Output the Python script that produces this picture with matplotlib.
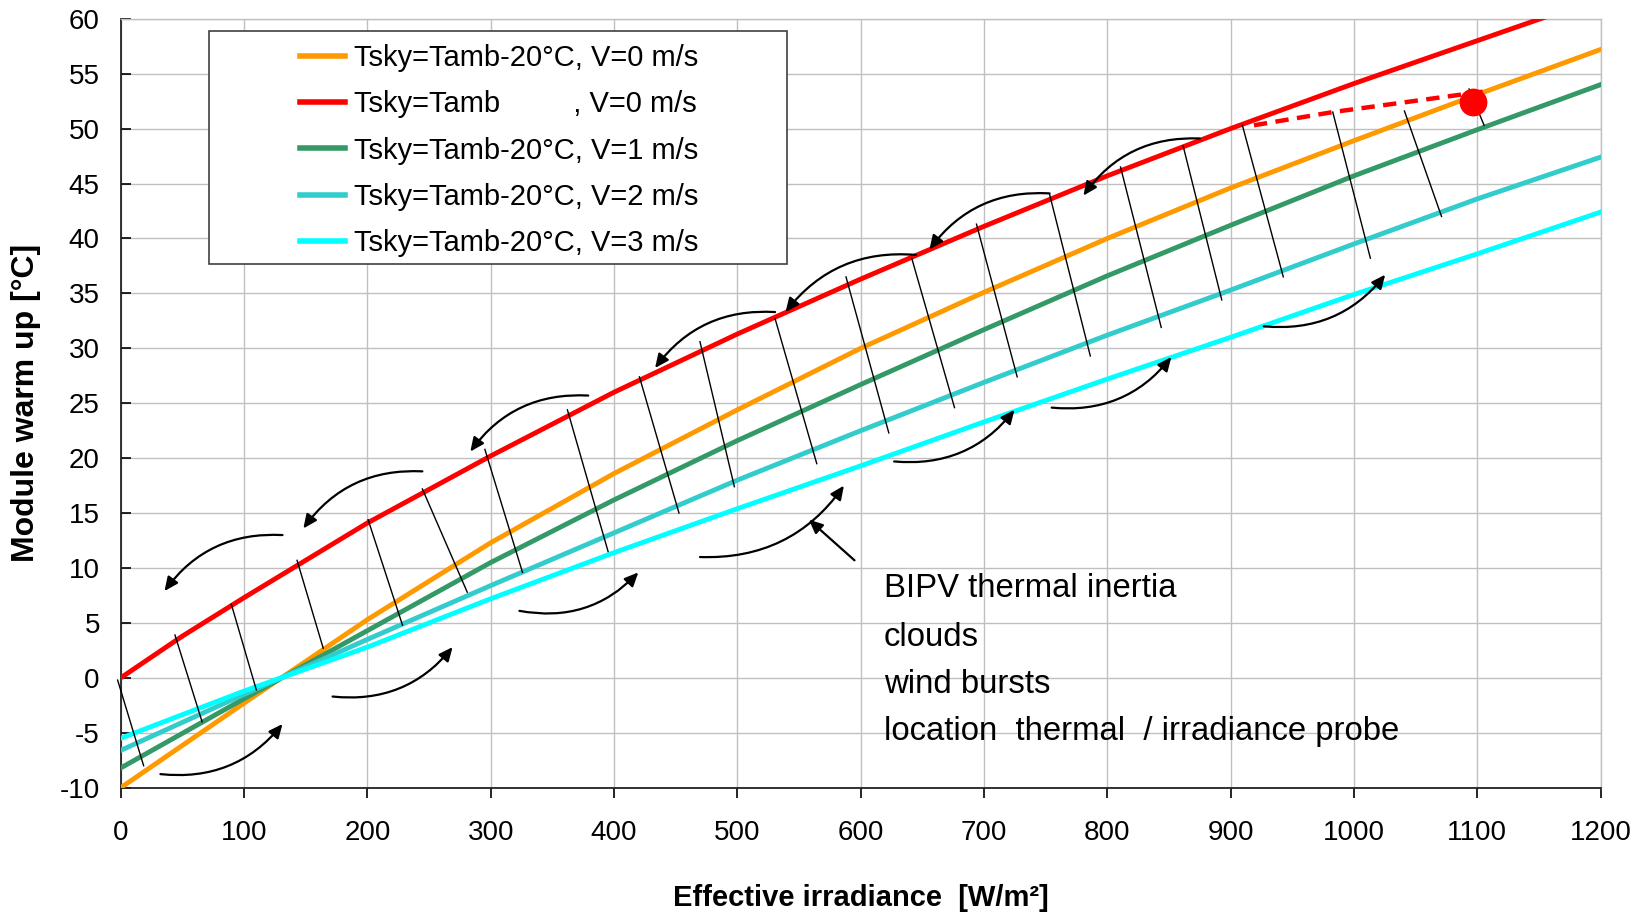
import matplotlib
matplotlib.use("Agg")
import matplotlib.pyplot as plt
from matplotlib.patches import FancyArrowPatch, Rectangle

plt.rcParams['font.family'] = ['Liberation Sans', 'DejaVu Sans']
plt.rcParams['axes.unicode_minus'] = False

# ---------------- data ----------------
x_red = [0, 50, 100, 200, 300, 400, 500, 600, 700, 800, 900, 1000, 1100, 1200]
y_red = [0, 3.8, 7.3, 14.1, 20.2, 26.0, 31.3, 36.3, 41.1, 45.7, 50.0, 54.1, 58.0, 61.9]

x_std = [0, 100, 200, 300, 400, 500, 600, 700, 800, 900, 1000, 1100, 1200]
y_v0 = [-10, -2.3, 5.3, 12.3, 18.6, 24.4, 30.0, 35.1, 40.0, 44.6, 48.9, 53.1, 57.2]
y_v1 = [-8.2, -1.9, 4.3, 10.5, 16.2, 21.6, 26.7, 31.7, 36.6, 41.2, 45.7, 49.9, 54.0]
y_v2 = [-6.6, -1.5, 3.5, 8.4, 13.2, 18.0, 22.5, 26.9, 31.2, 35.3, 39.5, 43.6, 47.4]
y_v3 = [-5.5, -1.2, 2.8, 7.2, 11.4, 15.4, 19.3, 23.3, 27.2, 31.0, 34.9, 38.6, 42.4]

labels = ["Tsky=Tamb-20°C, V=0 m/s",
          "Tsky=Tamb         , V=0 m/s",
          "Tsky=Tamb-20°C, V=1 m/s",
          "Tsky=Tamb-20°C, V=2 m/s",
          "Tsky=Tamb-20°C, V=3 m/s"]

# thin black segments (start x, start y, end x, end y)
seg_x0 = [-2.5, 44.0, 89.7, 143.0, 200.6, 244.6, 295.3, 362.2, 420.6, 469.7, 530.6,
          588.1, 641.4, 693.9, 753.2, 810.7, 861.5, 909.5, 982.8, 1040.9, 1093.3]
seg_y0 = [-0.2, 3.9, 6.7, 10.7, 14.4, 17.2, 20.8, 24.4, 27.4, 30.6, 32.7,
          36.5, 38.2, 41.3, 44.0, 46.5, 48.4, 50.3, 51.5, 51.6, 53.6]
seg_x1 = [18.6, 66.0, 110.0, 164.2, 228.5, 281.0, 325.8, 395.2, 452.7, 497.6, 564.4,
          622.8, 676.1, 726.9, 786.2, 843.7, 892.8, 942.7, 1013.3, 1071.0, 1105.5]
seg_y1 = [-8.0, -4.0, -1.1, 2.7, 4.8, 7.8, 9.6, 11.5, 15.0, 17.4, 19.5,
          22.3, 24.6, 27.4, 29.3, 31.9, 34.4, 36.5, 38.2, 42.0, 50.3]

# curved arrows above the red curve (tail -> head)
up_tx = [131.2, 244.6, 379.1, 530.6, 644.8, 753.2, 875.0]
up_ty = [13.0, 18.8, 25.7, 33.3, 38.5, 44.1, 49.1]
up_hx = [35.5, 148.1, 283.5, 433.3, 539.1, 655.8, 780.6]
up_hy = [7.9, 13.6, 20.6, 28.2, 33.3, 39.0, 43.9]

# curved arrows below the cyan curve (tail -> head)
lo_tx = [32.2, 171.8, 323.3, 469.7, 627.1, 754.9, 926.9]
lo_ty = [-8.76, -1.7, 6.1, 11.0, 19.7, 24.6, 32.0]
lo_hx = [131.2, 269.1, 419.7, 586.4, 724.7, 851.9, 1025.3]
lo_hy = [-4.2, 2.8, 9.6, 17.5, 24.4, 29.2, 36.7]

# dashed red line and red dot
dash_x = [918.9, 982.8, 1106.9]
dash_y = [50.3, 51.5, 53.4]
dot_x, dot_y = 1096.1, 52.4

# pointer arrow to text
ptr_tail = (595.0, 10.7)
ptr_head = (558.0, 14.4)

notes = ["BIPV thermal inertia", "clouds", "wind bursts",
         "location  thermal  / irradiance probe"]
notes_y = [8.1, 3.7, -0.6, -4.9]
notes_x = 618.6

xticks = list(range(0, 1201, 100))
yticks = list(range(-10, 61, 5))

# ---------------- figure ----------------
fig = plt.figure(figsize=(16.4, 9.13), dpi=100)
ax = fig.add_axes([0.0736, 0.1372, 0.9024, 0.8423])

ax.set_xlim(0, 1200)
ax.set_ylim(-10, 60)
ax.set_xticks(xticks)
ax.set_yticks(yticks)
ax.grid(True, color='#C0C0C0', lw=1.0, zorder=0)
ax.set_axisbelow(True)

ax.tick_params(axis='x', direction='out', length=7, width=1.2, pad=16, labelsize=20)
ax.tick_params(axis='y', direction='in', length=7, width=1.2, pad=15, labelsize=20)
for s in ['left', 'bottom']:
    ax.spines[s].set_color('#222222')
    ax.spines[s].set_linewidth(1.3)
for s in ['top', 'right']:
    ax.spines[s].set_color('#C0C0C0')
    ax.spines[s].set_linewidth(1.0)

lw = 3.5
l0, = ax.plot(x_std, y_v0, color='#FF9900', lw=lw, zorder=3, solid_joinstyle='round')
l1, = ax.plot(x_red, y_red, color='#FF0000', lw=lw, zorder=3, solid_joinstyle='round')
l2, = ax.plot(x_std, y_v1, color='#339966', lw=lw, zorder=3, solid_joinstyle='round')
l3, = ax.plot(x_std, y_v2, color='#33CCCC', lw=lw, zorder=3, solid_joinstyle='round')
l4, = ax.plot(x_std, y_v3, color='#00FFFF', lw=lw, zorder=3, solid_joinstyle='round')

for a, b, c, d in zip(seg_x0, seg_y0, seg_x1, seg_y1):
    ax.plot([a, c], [b, d], color='black', lw=1.0, zorder=5, clip_on=False)

ax.plot(dash_x, dash_y, color='#FF0000', lw=3.2, linestyle=(0, (3.0, 1.9)), zorder=4)
ax.plot([dot_x], [dot_y], marker='o', color='#FF0000', markersize=19, zorder=6)

def carrow(t, h, rad):
    p = FancyArrowPatch(t, h, connectionstyle=f"arc3,rad={rad}",
                        arrowstyle="-|>,head_length=0.55,head_width=0.25",
                        mutation_scale=15, color='black', lw=1.6, zorder=6,
                        shrinkA=0, shrinkB=0)
    ax.add_patch(p)

for tx, ty, hx, hy in zip(up_tx, up_ty, up_hx, up_hy):
    carrow((tx, ty), (hx, hy), 0.27)
for tx, ty, hx, hy in zip(lo_tx, lo_ty, lo_hx, lo_hy):
    carrow((tx, ty), (hx, hy), 0.27)
carrow(ptr_tail, ptr_head, 0.0)

for t, yy in zip(notes, notes_y):
    ax.text(notes_x, yy, t, fontsize=23.7, va='center', ha='left', zorder=7)

# legend box
box = Rectangle((0.0597, 0.6815), 0.3902, 0.302, transform=ax.transAxes,
                facecolor='white', edgecolor='#404040', lw=1.2, zorder=8)
ax.add_patch(box)
leg = ax.legend([l0, l1, l2, l3, l4], labels, loc='center',
                bbox_to_anchor=(0.2555, 0.8285), frameon=False, fontsize=21,
                handlelength=1.55, handletextpad=0.3, labelspacing=0.63,
                borderpad=0.2)
leg.set_zorder(9)
for lh in leg.get_lines():
    lh.set_linewidth(4.0)

ax.set_xlabel("Effective irradiance  [W/m²]", fontsize=21, fontweight='bold', va='center')
ax.set_ylabel("Module warm up [°C]", fontsize=23, fontweight='bold', va='center')
ax.xaxis.set_label_coords(0.5, -0.143)
ax.yaxis.set_label_coords(-0.064, 0.5)

fig.savefig("out.png", dpi=100)
